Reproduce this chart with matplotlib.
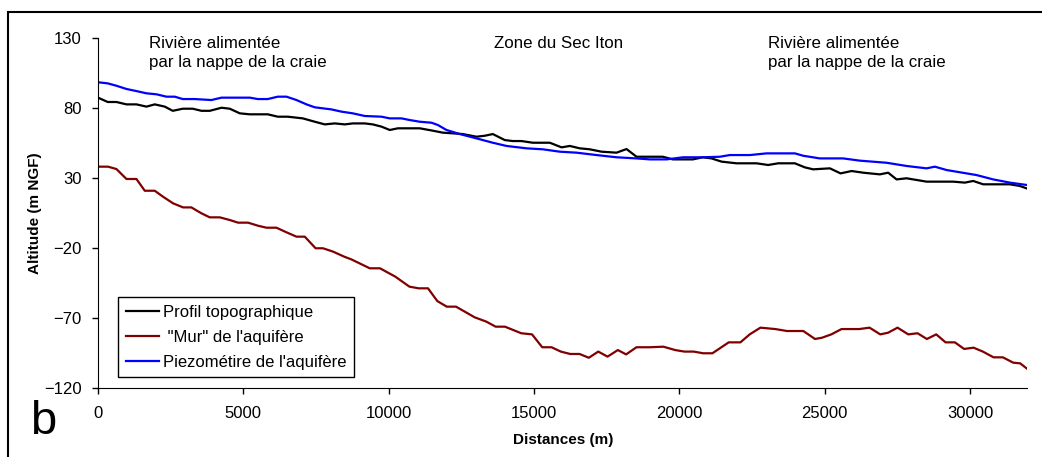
import matplotlib
matplotlib.use("Agg")
import matplotlib.pyplot as plt
import matplotlib.patches as patches

plt.rcParams['font.family'] = ['Liberation Sans', 'DejaVu Sans']

# profil topographique
topo_x = [0, 334, 633, 977, 1321, 1665, 1951, 2295, 2570, 2915, 3259, 3558, 3844, 4246, 4532,
          4876, 5220, 5839, 6184, 6528, 7044, 7457, 7801, 8145, 8489, 8764, 9177, 9452, 9752,
          10037, 10313, 10829, 11070, 11517, 11861, 12550, 13021, 13306, 13582, 13995, 14270,
          14569, 14958, 15543, 15946, 16231, 16575, 16919, 17322, 17838, 18182, 18526, 19431,
          19775, 20464, 20808, 21107, 21451, 21967, 22655, 23055, 23399, 23974, 24318, 24603,
          25178, 25546, 25925, 26324, 26898, 27184, 27473, 27817, 28506, 29421, 29823, 30109,
          30453, 31371, 31716, 31960]
topo_y = [87.4, 84.3, 84.3, 82.6, 82.6, 81, 82.6, 81, 78, 79.5, 79.5, 78, 78, 80.2, 79.5,
          76.2, 75.5, 75.5, 73.8, 73.8, 72.6, 70.2, 68.3, 69, 68.3, 69, 69, 68.3, 66.7,
          64.3, 65.5, 65.5, 65.5, 63.8, 62.4, 61.4, 59.5, 60.2, 61.4, 57.1, 56.4,
          56.4, 55.2, 55.2, 51.9, 52.9, 51.2, 50.5, 48.8, 48.1, 50.7, 45.2, 45.2,
          43.3, 43.3, 44.8, 44, 41.7, 40.5, 40.5, 39.3, 40.5, 40.5, 37.6, 36.2,
          36.9, 33.3, 35, 33.8, 32.6, 33.8, 29, 29.8, 27.4, 27.4, 26.7, 27.9,
          25.5, 25.5, 24.3, 22.5]

# "mur" de l'aquifere
mur_x = [0, 344, 633, 977, 1321, 1607, 1951, 2238, 2582, 2926, 3211, 3555, 3844, 4188, 4532,
         4817, 5162, 5506, 5795, 6139, 6483, 6827, 7113, 7485, 7740, 8087, 8471, 8712, 9349,
         9700, 10230, 10712, 11032, 11352, 11672, 11996, 12316, 12956, 13359, 13679, 13999,
         14560, 14931, 15282, 15602, 15922, 16245, 16565, 16885, 17209, 17529, 17883, 18169,
         18523, 18974, 19452, 19855, 20175, 20495, 20817, 21137, 21698, 22100, 22420, 22789,
         23301, 23704, 24265, 24667, 24905, 25228, 25579, 26188, 26543, 26911, 27183, 27506,
         27875, 28195, 28515, 28838, 29158, 29478, 29798, 30122, 30442, 30810, 31130, 31485,
         31726, 31960]
mur_y = [38.1, 38.1, 36.4, 29.3, 29.3, 20.9, 20.9, 16.6, 11.9, 9, 9, 4.8, 1.9, 1.9, 0,
         -1.9, -1.9, -4.1, -5.5, -5.5, -8.8, -11.9, -11.9, -20.2, -20.2, -22.6, -26.2, -28.1, -34.5,
         -34.5, -40.5, -47.6, -48.8, -48.8, -57.9, -61.9, -61.9, -69.5, -72.6, -76.2, -76.2,
         -80.9, -81.7, -90.9, -90.9, -94, -95.7, -95.7, -98.4, -94, -97.6, -92.9, -96,
         -90.9, -90.9, -90.5, -92.9, -94, -94, -95.2, -95.2, -87.4, -87.4, -81.7, -76.9,
         -77.9, -79.3, -79.3, -85, -84.1, -81.7, -77.9, -77.9, -76.9, -81.7, -80.5, -76.9,
         -81.7, -80.9, -85, -81.7, -87.4, -87.4, -92.1, -91.2, -94, -98.1, -98.1, -101.9,
         -102.4, -106.2]

# piezometrie de l'aquifere
piezo_x = [0, 334, 633, 977, 1321, 1665, 2009, 2352, 2638, 2915, 3327, 3900, 4246, 4807, 5220,
           5495, 5839, 6184, 6483, 6827, 7171, 7457, 8031, 8375, 8764, 9177, 9752, 10037, 10439,
           10726, 11070, 11471, 11689, 11988, 12446, 13021, 13582, 14053, 14742, 15303, 15888,
           16463, 17151, 17838, 18526, 18984, 19558, 20130, 20808, 21393, 21737, 22426, 22999,
           23974, 24260, 24833, 25635, 26209, 27127, 27817, 28506, 28791, 29194, 29882, 30226,
           30797, 31371, 31960]
piezo_y = [98.4, 97.6, 95.9, 93.6, 92.1, 90.5, 89.8, 88.1, 88.1, 86.4, 86.4, 85.7, 87.4, 87.4, 87.4,
           86.4, 86.4, 88.1, 88.1, 85.7, 82.6, 80.5, 79, 77.4, 76.2, 74.3, 73.8, 72.6, 72.6,
           71.4, 70.2, 69.5, 67.9, 64.3, 61.4, 58.3, 55.2, 52.9, 51.2, 50.5, 48.8,
           48.1, 46.4, 44.8, 44, 43.3, 43.3, 44.8, 44.8, 45.2, 46.4, 46.4, 47.6,
           47.6, 45.9, 44, 44, 42.4, 40.9, 38.6, 36.9, 38.1, 35.7, 33.3, 32.1,
           29, 26.7, 25]

y_ticks = [-120, -70, -20, 30, 80, 130]
x_ticks = [0, 5000, 10000, 15000, 20000, 25000, 30000]

fig = plt.figure(figsize=(10.42, 4.57), dpi=100)
ax = fig.add_axes([0.0941, 0.151, 0.8915, 0.7658])

ax.plot(topo_x, topo_y, color='black', lw=1.6, label='Profil topographique')
ax.plot(mur_x, mur_y, color='#800000', lw=1.6, label=' "Mur" de l\'aquifère')
ax.plot(piezo_x, piezo_y, color='#0000ff', lw=1.6, label='Piezométire de l\'aquifère')

ax.set_xlim(0, 31960)
ax.set_ylim(-120, 130)
ax.set_yticks(y_ticks)
ax.set_xticks(x_ticks)
ax.spines['top'].set_visible(False)
ax.spines['right'].set_visible(False)
ax.tick_params(direction='out', length=4, width=1, labelsize=12)
ax.tick_params(axis='y', pad=8)
ax.tick_params(axis='x', pad=9)

leg = ax.legend(loc='lower left', bbox_to_anchor=(0.0215, 0.031), borderaxespad=0,
                fancybox=False, edgecolor='black', framealpha=1, fontsize=12,
                handlelength=2.0, handletextpad=0.25, labelspacing=0.6, borderpad=0.45)
leg.get_frame().set_linewidth(1)

# annotations
fig.text(149 / 1042, 1 - 36 / 457, "Rivière alimentée\npar la nappe de la craie",
         fontsize=12.2, va='top', ha='left', linespacing=1.3)
fig.text(494 / 1042, 1 - 36 / 457, "Zone du Sec Iton", fontsize=12.2, va='top', ha='left')
fig.text(768 / 1042, 1 - 36 / 457, "Rivière alimentée\npar la nappe de la craie",
         fontsize=12.2, va='top', ha='left', linespacing=1.3)

fig.text(35 / 1042, 1 - 213 / 457, "Altitude (m NGF)", rotation=90, fontsize=11,
         fontweight='bold', ha='center', va='center')
fig.text(563 / 1042, 1 - 440 / 457, "Distances (m)", fontsize=11, fontweight='bold',
         ha='center', va='center')
fig.text(43 / 1042, 1 - 422 / 457, "b", fontsize=34, ha='center', va='center')

border = patches.Rectangle((8 / 1042, -0.05), 1.1, 1 - 12 / 457 + 0.05,
                           transform=fig.transFigure, fill=False, lw=1.5, edgecolor='black')
fig.add_artist(border)

fig.savefig("out.png", dpi=100)
